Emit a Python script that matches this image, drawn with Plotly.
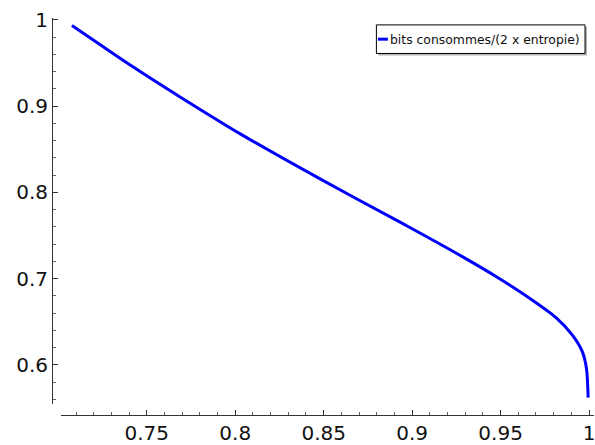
import plotly.graph_objects as go

# Ratio of bits consumed to twice the entropy, as a function of p
p_values = [0.7077, 0.7237, 0.7387, 0.7537, 0.7669, 0.8026, 0.8477, 0.8929,
            0.9098, 0.9286, 0.9474, 0.9662, 0.9812, 0.9906, 0.9962, 0.9985, 0.9995]
ratio_values = [0.9935, 0.9712, 0.9505, 0.9304, 0.9132, 0.8682, 0.8159, 0.7657,
                0.7468, 0.7252, 0.7025, 0.6775, 0.6550, 0.6343, 0.6152, 0.5962, 0.5619]

x_ticks = [0.75, 0.8, 0.85, 0.9, 0.95, 1.0]
x_tick_labels = ["0.75", "0.8", "0.85", "0.9", "0.95", "1"]
y_ticks = [0.6, 0.7, 0.8, 0.9, 1.0]
y_tick_labels = ["0.6", "0.7", "0.8", "0.9", "1"]
legend_label = "bits consommes/(2 x entropie)"

W, H = 595, 445
ML, MT, MB, MR = 52, 18, 24, 0
pw, ph = W - ML - MR, H - MT - MB

axis_col = "#333333"
tick_font = dict(family="DejaVu Sans", size=20, color="#111111")

fig = go.Figure()
fig.add_trace(go.Scatter(
    x=p_values, y=ratio_values, mode="lines",
    line=dict(color="#0000ff", width=3, shape="spline", smoothing=0.8),
    showlegend=False, hoverinfo="skip",
))

fig.update_layout(
    width=W, height=H,
    margin=dict(l=ML, r=MR, t=MT, b=MB),
    paper_bgcolor="white", plot_bgcolor="white",
    xaxis=dict(
        domain=[(61 - ML) / pw, 1], anchor="free", position=0,
        range=[0.7015, 1.0028], showgrid=False, zeroline=False,
        showline=True, linecolor=axis_col, linewidth=1,
        tickvals=x_ticks, ticktext=x_tick_labels,
        ticks="inside", ticklen=5, tickwidth=1, tickcolor=axis_col,
        minor=dict(dtick=0.01, tick0=0.7, ticks="inside", ticklen=3,
                   tickwidth=1, tickcolor="#666666", showgrid=False),
        tickfont=tick_font, ticklabeloverflow="allow",
    ),
    yaxis=dict(
        domain=[(421 - 410) / ph, 1], anchor="free", position=0,
        range=[0.5543, 1.0023], showgrid=False, zeroline=False,
        showline=True, linecolor=axis_col, linewidth=1,
        tickvals=y_ticks, ticktext=y_tick_labels,
        ticks="inside", ticklen=5, tickwidth=1, tickcolor=axis_col,
        minor=dict(dtick=0.02, tick0=0.5, ticks="inside", ticklen=3,
                   tickwidth=1, tickcolor="#666666", showgrid=False),
        tickfont=tick_font, ticklabeloverflow="allow",
    ),
)

# Legend box drawn in paper coordinates, with a soft shadow
def px_x(v):
    return (v - ML) / pw

def px_y(v):
    return 1 - (v - MT) / ph

bx0, bx1, by0, by1 = 377, 586, 25, 54
fig.add_shape(type="rect", xref="paper", yref="paper",
              x0=px_x(bx0 + 2), x1=px_x(bx1 + 2), y0=px_y(by1 + 2), y1=px_y(by0 + 2),
              line=dict(width=0), fillcolor="rgba(0,0,0,0.3)", layer="above")
fig.add_shape(type="rect", xref="paper", yref="paper",
              x0=px_x(bx0), x1=px_x(bx1), y0=px_y(by1), y1=px_y(by0),
              line=dict(color="#000000", width=1), fillcolor="white", layer="above")
fig.add_shape(type="line", xref="paper", yref="paper",
              x0=px_x(378.5), x1=px_x(388.5), y0=px_y(39.5), y1=px_y(39.5),
              line=dict(color="#0000ff", width=3), layer="above")
fig.add_annotation(xref="paper", yref="paper", x=px_x(389), y=px_y(40),
                   text=legend_label, showarrow=False, xanchor="left", yanchor="middle",
                   font=dict(family="DejaVu Sans", size=12.4, color="#111111"))

fig.write_html("out.html")
